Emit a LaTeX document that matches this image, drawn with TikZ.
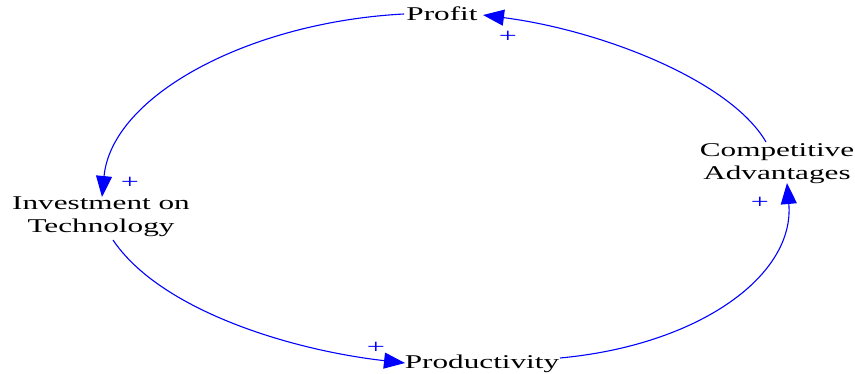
\documentclass[tikz,border=0pt]{standalone}
\usepackage{fontspec}
\setmainfont{Liberation Serif}
\newfontfamily\labelfont[FakeStretch=1.6]{Liberation Serif}
\usetikzlibrary{arrows.meta}
\begin{document}
\begin{tikzpicture}[x=1pt,y=-1pt,
  var/.style={inner sep=0pt, align=center, font=\labelfont\fontsize{19.5}{23}\selectfont},
  link/.style={draw=blue, line width=1.1pt, -{Triangle[length=21pt,width=16pt]}},
  pol/.style={text=blue, inner sep=0pt, font=\labelfont\fontsize{20}{20}\selectfont}]
\useasboundingbox (0,0) rectangle (855,374);
\node[var] (profit) at (442,14) {Profit};
\node[var] (invest) at (101,217) {Investment on\\Technology};
\node[var] (comp) at (777,164) {Competitive\\Advantages};
\node[var] (prod) at (482,364) {Productivity};
\coordinate (p1) at (404,14);
\coordinate (i1) at (102,197);
\coordinate (i2) at (113,240);
\coordinate (d1) at (405,363);
\coordinate (d2) at (560,358);
\coordinate (c1) at (787,183);
\coordinate (c2) at (766,142);
\coordinate (p2) at (483,15);
\draw[link] (p1) .. controls (250,22) and (112,95) .. (i1);
\draw[link] (i2) .. controls (160,310) and (290,350) .. (d1);
\draw[link] (d2) .. controls (700,345) and (795,275) .. (c1);
\draw[link] (c2) .. controls (730,80) and (600,30) .. (p2);
\node[pol] (s1) at (508,37) {+};
\node[pol] (s2) at (130,183) {+};
\node[pol] (s3) at (376,348) {+};
\node[pol] (s4) at (760,203) {+};
\end{tikzpicture}
\end{document}
